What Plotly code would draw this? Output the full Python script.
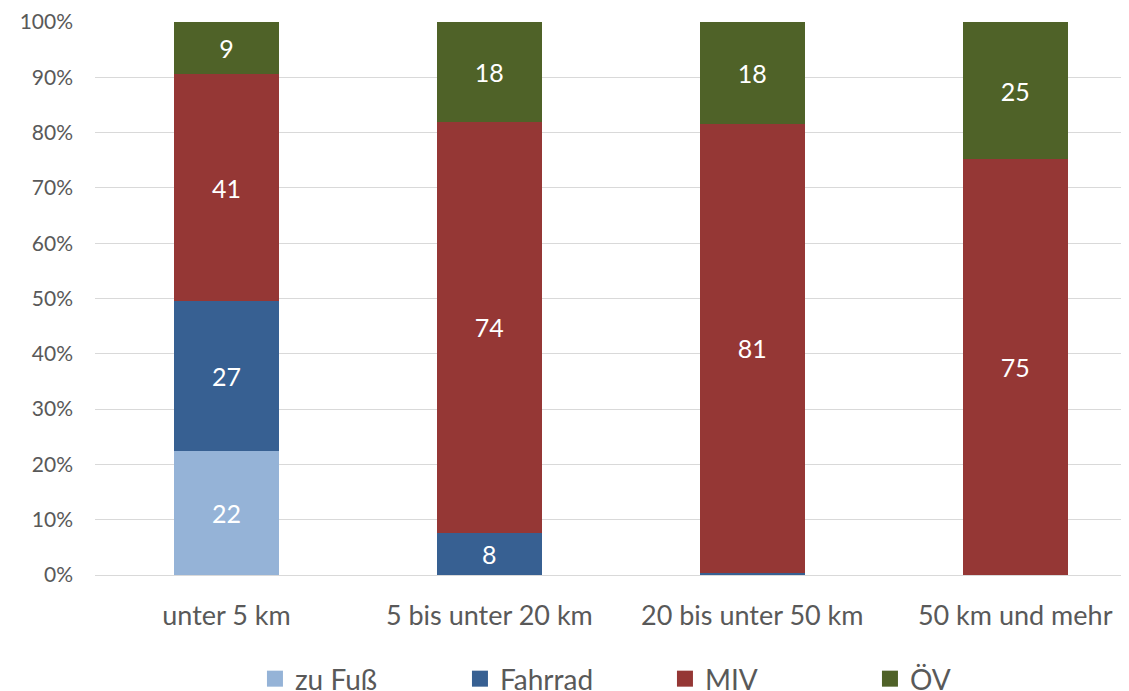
import plotly.graph_objects as go

categories = ["unter 5 km", "5 bis unter 20 km", "20 bis unter 50 km", "50 km und mehr"]
series_names = ["zu Fuß", "Fahrrad", "MIV", "ÖV"]
zu_fuss = [22.4, 0, 0, 0]
fahrrad = [27.1, 7.6, 0.4, 0]
miv = [41.1, 74.4, 81.2, 75.2]
oev = [9.4, 18.0, 18.4, 24.8]
labels_zu_fuss = ["22", "", "", ""]
labels_fahrrad = ["27", "8", "", ""]
labels_miv = ["41", "74", "81", "75"]
labels_oev = ["9", "18", "18", "25"]
y_ticks = [0, 10, 20, 30, 40, 50, 60, 70, 80, 90, 100]
y_tick_labels = [f"{v}%" for v in y_ticks]

colors = ["#95B3D7", "#376092", "#953735", "#4F6228"]
values = [zu_fuss, fahrrad, miv, oev]
labels = [labels_zu_fuss, labels_fahrrad, labels_miv, labels_oev]

FONT = "Lato"
fig = go.Figure()
for name, vals, txt, col in zip(series_names, values, labels, colors):
    fig.add_trace(go.Bar(
        x=categories, y=vals, name=name, text=txt,
        marker=dict(color=col, line=dict(width=0)),
        width=0.4, textposition="inside", insidetextanchor="middle",
        textangle=0, constraintext="none",
        textfont=dict(family=FONT, size=25, color="white"),
        showlegend=False, hoverinfo="skip",
    ))
# legend entries (square markers)
for name, col in zip(series_names, colors):
    fig.add_trace(go.Scatter(
        x=[None], y=[None], mode="markers", name=name,
        marker=dict(symbol="square", size=16, color=col),
    ))

# the page body has an 8px default margin, compensated in the layout margins
fig.update_layout(
    barmode="stack",
    width=1129, height=691,
    margin=dict(l=86.5, r=8, t=14, b=124, autoexpand=False),
    paper_bgcolor="white", plot_bgcolor="white",
    font=dict(family=FONT, color="#595959"),
    legend=dict(orientation="h", x=0.1547, xanchor="left", y=-0.188, yanchor="middle",
                font=dict(family=FONT, size=28, color="#595959"),
                itemsizing="trace", entrywidth=160, traceorder="normal",
                tracegroupgap=0),
    xaxis=dict(range=[-0.5, 3.433], showgrid=False, zeroline=False, showline=False,
               ticks="", tickfont=dict(family=FONT, size=27, color="#595959"),
               ticklabelstandoff=22),
    yaxis=dict(range=[0, 100], tickvals=y_ticks, ticktext=y_tick_labels,
               showgrid=True, gridcolor="#D9D9D9", gridwidth=1.3,
               zeroline=True, zerolinecolor="#D9D9D9", zerolinewidth=1.3,
               showline=False, ticks="", ticklabelstandoff=21,
               tickfont=dict(family=FONT, size=21, color="#595959")),
)
fig.write_html("out.html")
